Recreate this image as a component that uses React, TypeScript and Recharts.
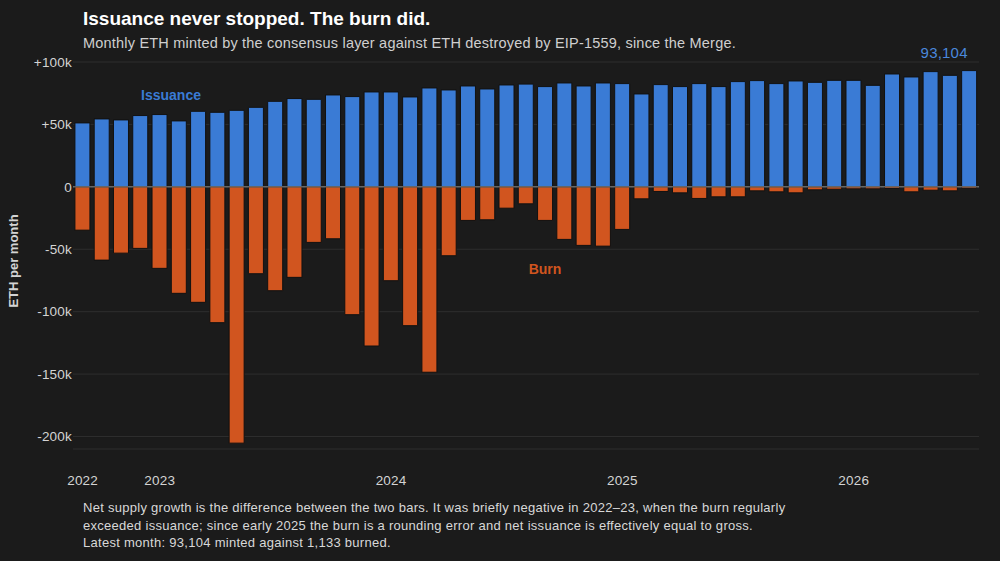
import React from "react";
import {
  BarChart,
  Bar,
  XAxis,
  YAxis,
  CartesianGrid,
  ReferenceLine,
  LabelList,
} from "recharts";

// Months since the Merge (Sep 2022) through Jul 2026
const months = [
  "2022-09", "2022-10", "2022-11", "2022-12",
  "2023-01", "2023-02", "2023-03", "2023-04", "2023-05", "2023-06",
  "2023-07", "2023-08", "2023-09", "2023-10", "2023-11", "2023-12",
  "2024-01", "2024-02", "2024-03", "2024-04", "2024-05", "2024-06",
  "2024-07", "2024-08", "2024-09", "2024-10", "2024-11", "2024-12",
  "2025-01", "2025-02", "2025-03", "2025-04", "2025-05", "2025-06",
  "2025-07", "2025-08", "2025-09", "2025-10", "2025-11", "2025-12",
  "2026-01", "2026-02", "2026-03", "2026-04", "2026-05", "2026-06",
  "2026-07",
];

// ETH minted per month
const issuance = [
  51200, 54400, 53600, 57100, 57900, 52800, 60500, 59700, 61300, 63700,
  68500, 70700, 70100, 73600, 72300, 76000, 76000, 72000, 79200, 77600,
  80800, 78400, 81600, 82300, 80300, 83200, 80800, 83200, 82700, 74400,
  81900, 80300, 82700, 80300, 84300, 85100, 82700, 84800, 83700, 85300,
  85300, 81300, 90400, 88000, 92300, 89300, 93104,
];

// ETH burned per month (positive amounts)
const burned = [
  34700, 58700, 53100, 49300, 65300, 85300, 92500, 108800, 205300, 69600,
  83200, 72500, 44500, 41600, 102400, 127500, 75200, 111200, 148500, 55200,
  26900, 26400, 17100, 13600, 26900, 42100, 46900, 47500, 34100, 9600,
  3700, 4800, 9300, 8000, 8000, 3200, 4000, 4800, 2400, 1900,
  1600, 1600, 1300, 4000, 2700, 3200, 1133,
];

const yearTicks = ["2022-09", "2023-01", "2024-01", "2025-01", "2026-01"];
const yTicks = [100000, 50000, 0, -50000, -100000, -150000, -200000];

const data = months.map((m, i) => ({
  month: m,
  issuance: issuance[i],
  burn: -burned[i],
}));

const FONT = '"Liberation Sans", Arial, Helvetica, sans-serif';
const BLUE = "#3a7bd5";
const ORANGE = "#d1551f";
const BG = "#1b1b1b";

const fmtY = (v: number) => {
  if (v === 0) return "0";
  const k = Math.round(Math.abs(v) / 1000) + "k";
  return v > 0 ? "+" + k : "-" + k;
};

const lastIndex = issuance.length - 1;

const LastLabel = (props: any) => {
  const { x, y, width, value, index } = props;
  if (index !== lastIndex) return null;
  return (
    <text
      x={Number(x) + Number(width) / 2 - 25}
      y={Number(y) - 13}
      textAnchor="middle"
      fill="#4a88dc"
      fontSize={15}
      fontFamily={FONT}
      letterSpacing={0.2}
    >
      {Number(value).toLocaleString("en-US")}
    </text>
  );
};

const tickStyle = { fill: "#d4d4d4", fontSize: 13.5, fontFamily: FONT, letterSpacing: 0.2 };

export default function App() {
  return (
    <div
      style={{
        position: "absolute",
        left: 0,
        top: 0,
        width: 1000,
        height: 561,
        background: BG,
        fontFamily: FONT,
        overflow: "hidden",
      }}
    >
      <div
        style={{
          position: "absolute",
          left: 83,
          top: 8,
          fontSize: 19,
          lineHeight: "22px",
          fontWeight: 700,
          color: "#ffffff",
          whiteSpace: "nowrap",
        }}
      >
        Issuance never stopped. The burn did.
      </div>
      <div
        style={{
          position: "absolute",
          left: 83,
          top: 34,
          fontSize: 14.5,
          lineHeight: "18px",
          letterSpacing: 0.2,
          color: "#cfcfcf",
          whiteSpace: "nowrap",
        }}
      >
        Monthly ETH minted by the consensus layer against ETH destroyed by EIP-1559, since the Merge.
      </div>

      <div style={{ position: "absolute", left: 0, top: 0 }}>
        <BarChart
          width={1000}
          height={561}
          data={data}
          stackOffset="sign"
          barCategoryGap="10%"
          margin={{ top: 62, right: 21, bottom: 82, left: 0 }}
        >
          <CartesianGrid vertical={false} stroke="#2e2e2e" strokeWidth={1} />
          <XAxis
            dataKey="month"
            ticks={yearTicks}
            interval={0}
            tickFormatter={(m: string) => m.slice(0, 4)}
            axisLine={false}
            tickLine={false}
            tickSize={0}
            tickMargin={26}
            height={30}
            tick={tickStyle}
          />
          <YAxis
            width={73}
            domain={[-210000, 100000]}
            ticks={yTicks}
            tickFormatter={fmtY}
            axisLine={false}
            tickLine={false}
            tickSize={0}
            tickMargin={1}
            allowDataOverflow
            tick={tickStyle}
          />
          <Bar
            dataKey="issuance"
            stackId="s"
            fill={BLUE}
            stroke="#111"
            strokeWidth={1}
            isAnimationActive={false}
          >
            <LabelList dataKey="issuance" content={LastLabel} />
          </Bar>
          <Bar
            dataKey="burn"
            stackId="s"
            fill={ORANGE}
            stroke="#111"
            strokeWidth={1}
            isAnimationActive={false}
          />
          <ReferenceLine y={0} stroke="#8a8a8a" strokeWidth={1} />
        </BarChart>
      </div>

      <div
        style={{
          position: "absolute",
          left: 171,
          top: 95,
          transform: "translate(-50%, -50%)",
          fontSize: 14,
          lineHeight: "14px",
          fontWeight: 700,
          color: BLUE,
          whiteSpace: "nowrap",
        }}
      >
        Issuance
      </div>
      <div
        style={{
          position: "absolute",
          left: 545,
          top: 269,
          transform: "translate(-50%, -50%)",
          fontSize: 14,
          lineHeight: "14px",
          fontWeight: 700,
          color: ORANGE,
          whiteSpace: "nowrap",
        }}
      >
        Burn
      </div>

      <div
        style={{
          position: "absolute",
          left: 13,
          top: 261,
          transform: "translate(-50%, -50%) rotate(-90deg)",
          fontSize: 13,
          lineHeight: "13px",
          fontWeight: 700,
          color: "#d4d4d4",
          whiteSpace: "nowrap",
        }}
      >
        ETH per month
      </div>

      <div
        style={{
          position: "absolute",
          left: 83,
          top: 499,
          fontSize: 13,
          lineHeight: "17.5px",
          letterSpacing: 0.28,
          color: "#d8d8d8",
          whiteSpace: "nowrap",
        }}
      >
        <div>
          Net supply growth is the difference between the two bars. It was briefly negative in 2022–23, when the burn regularly
        </div>
        <div>
          exceeded issuance; since early 2025 the burn is a rounding error and net issuance is effectively equal to gross.
        </div>
        <div>Latest month: 93,104 minted against 1,133 burned.</div>
      </div>
    </div>
  );
}
